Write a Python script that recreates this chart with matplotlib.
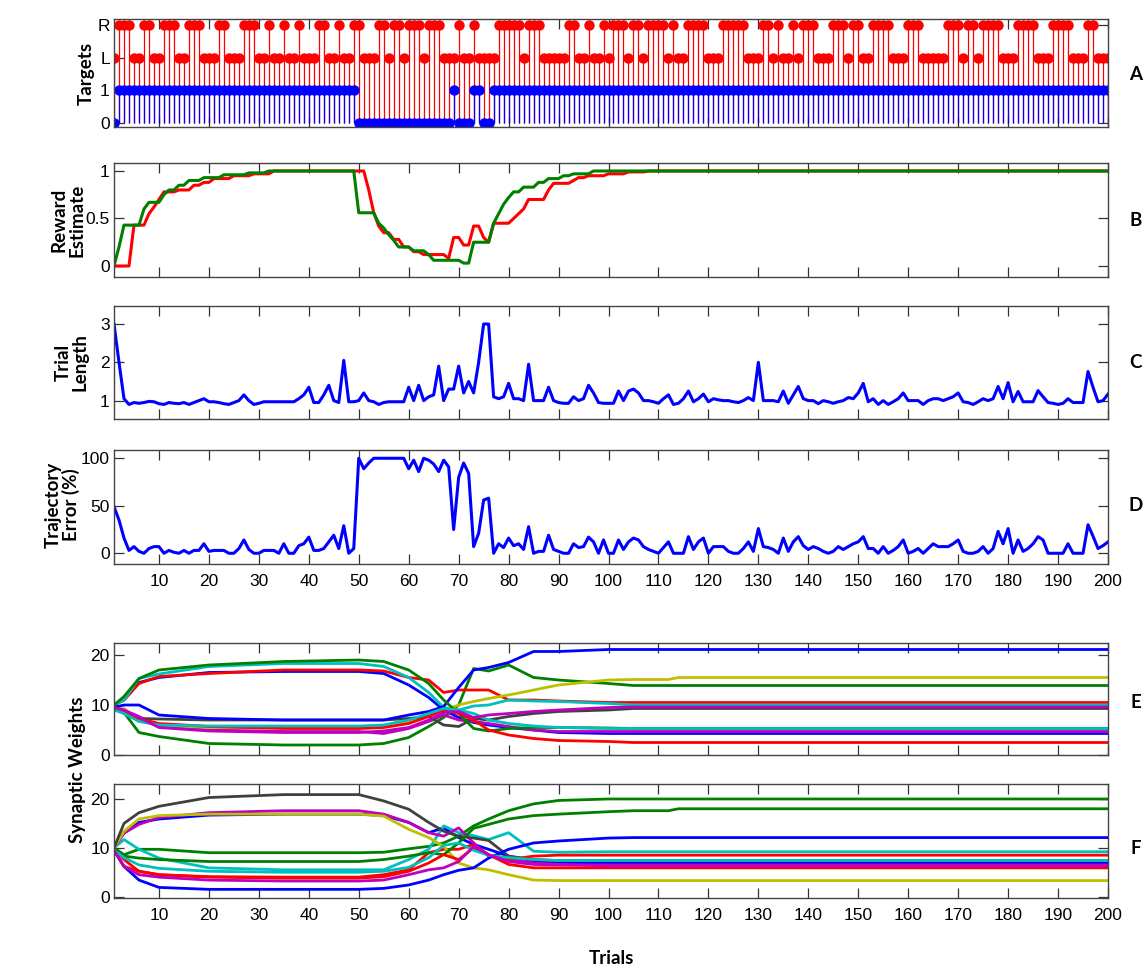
import matplotlib
matplotlib.use("Agg")
import matplotlib.pyplot as plt
import numpy as np

plt.rcParams["font.family"] = ["Liberation Sans", "DejaVu Sans"]

# MATLAB style colours
mb, mg, mr = (0, 0, 1), (0, 0.5, 0), (1, 0, 0)
mc, mm, my, mk = (0, 0.75, 0.75), (0.75, 0, 0.75), (0.75, 0.75, 0), (0.25, 0.25, 0.25)
line_colors = [mb, mg, mr, mc, mm, my, mk, mb, mg, mr, mc, mm]

trials = np.arange(1, 201)

# --- A: targets (R/L) and outcome (1/0) per trial
target_seq = ("LRRRLLRRLL" "RRRLLRRRLL" "LRRLLLRRRL" "LRLLRLLRLL" "LRRLLRLLRR"
              "LLLRRLRRLR" "RRLRRRLLLR" "LLRLLLLRRR" "RRLRRRLLLL" "LRRLLRLLRL"
              "RRRLRRLRRR" "RLRLLRRRRL" "LLRRRRRLLL" "RRLRLLRLRR" "RLLLRRRLRR"
              "LLRRRRLLLR" "RRLLLLLRRR" "LRRLRRRRLL" "LRRRRLLLRR" "RRLLLRRLLL")
failed_trials = [1] + list(range(50, 69)) + [70, 71, 72, 75, 76]

# --- B: reward estimates, run-length (value, count)
green_vals = [0, 0.2, 0.43, 0.6, 0.67, 0.75, 0.8, 0.85, 0.9, 0.93, 0.96, 0.98, 1.0,
              0.56, 0.45, 0.4, 0.33, 0.27, 0.2, 0.16, 0.12, 0.06, 0.03,
              0.25, 0.45, 0.55, 0.65, 0.72, 0.78, 0.83, 0.88, 0.92, 0.95, 0.97, 1.0]
green_runs = [1, 1, 4, 1, 3, 1, 2, 2, 3, 4, 5, 4, 18,
              4, 1, 1, 1, 1, 3, 3, 1, 6, 2,
              4, 1, 1, 1, 1, 2, 3, 2, 3, 2, 4, 104]
red_vals = [0, 0.43, 0.55, 0.62, 0.7, 0.78, 0.8, 0.85, 0.88, 0.92, 0.95, 0.97, 1.0,
            0.8, 0.56, 0.42, 0.35, 0.28, 0.2, 0.15, 0.12, 0.08,
            0.3, 0.22, 0.42, 0.3, 0.25, 0.45,
            0.5, 0.55, 0.6, 0.7, 0.8, 0.87, 0.9, 0.93, 0.95, 0.97, 0.99, 1.0]
red_runs = [4, 3, 1, 1, 1, 3, 3, 2, 2, 4, 4, 4, 19,
            1, 1, 1, 2, 2, 2, 2, 5, 1,
            2, 2, 2, 1, 1, 4,
            1, 1, 1, 4, 1, 4, 1, 2, 4, 4, 4, 93]

# --- C: trial length
trial_length = [
    3.0, 2.0, 1.05, 0.9, 0.95, 0.93, 0.95, 0.98, 0.97, 0.92,
    0.9, 0.95, 0.93, 0.92, 0.95, 0.9, 0.95, 1.0, 1.05, 0.97,
    0.97, 0.95, 0.92, 0.9, 0.95, 1.0, 1.15, 1.0, 0.9, 0.93,
    0.97, 0.97, 0.97, 0.97, 0.97, 0.97, 0.97, 1.05, 1.15, 1.35,
    0.95, 0.95, 1.15, 1.4, 1.0, 0.95, 2.05, 0.97, 0.97, 1.0,
    1.2, 1.0, 0.97, 0.9, 0.95, 0.97, 0.97, 0.97, 0.97, 1.35,
    1.0, 1.4, 1.0, 1.1, 1.15, 1.9, 1.0, 1.3, 1.3, 1.9,
    1.2, 1.5, 1.2, 2.0, 3.0, 3.0, 1.1, 1.05, 1.1, 1.45,
    1.05, 1.05, 1.0, 1.95, 1.0, 1.0, 1.0, 1.35, 1.0, 0.95,
    0.93, 0.93, 1.1, 1.0, 1.05, 1.4, 1.2, 0.95, 0.93, 0.93,
    0.93, 1.25, 1.0, 1.25, 1.3, 1.2, 1.0, 1.0, 0.97, 0.93,
    1.05, 1.15, 0.9, 0.93, 1.05, 1.25, 0.97, 1.05, 1.17, 0.97,
    1.05, 1.02, 1.0, 1.0, 0.97, 0.95, 1.0, 1.08, 1.0, 2.0,
    1.0, 1.0, 1.0, 0.97, 1.25, 0.93, 1.15, 1.37, 1.05, 1.0,
    1.0, 0.92, 1.0, 0.97, 0.93, 0.97, 1.0, 1.08, 1.05, 1.2,
    1.45, 0.97, 1.05, 0.9, 1.0, 0.9, 0.97, 1.05, 1.2, 1.0,
    1.0, 1.0, 0.9, 1.0, 1.05, 1.05, 1.0, 1.05, 1.1, 1.2,
    0.97, 0.95, 0.9, 0.97, 1.05, 1.0, 1.05, 1.37, 1.05, 1.47,
    0.97, 1.24, 0.97, 0.97, 0.97, 1.26, 1.1, 0.95, 0.93, 0.9,
    0.93, 1.05, 0.95, 0.95, 0.95, 1.76, 1.35, 0.97, 1.0, 1.17]

# --- D: trajectory error (%)
traj_error = [
    49, 35, 16, 3, 7, 2, 0, 5, 7, 7,
    0, 3, 1, 0, 3, 0, 3, 3, 10, 2,
    3, 3, 3, 0, 0, 5, 14, 4, 0, 0,
    3, 3, 3, 0, 10, 0, 0, 8, 10, 17,
    3, 3, 5, 12, 19, 5, 29, 0, 5, 100,
    89, 95, 100, 100, 100, 100, 100, 100, 100, 89,
    98, 86, 100, 98, 94, 86, 98, 91, 25, 80,
    95, 84, 7, 21, 56, 58, 0, 10, 6, 16,
    8, 10, 4, 28, 0, 2, 2, 19, 4, 2,
    0, 0, 10, 6, 7, 17, 12, 0, 14, 0,
    0, 14, 4, 12, 16, 14, 7, 4, 2, 0,
    6, 12, 0, 0, 0, 17.5, 4, 12, 16, 0,
    7, 7, 7, 2, 0, 0, 5, 12, 2, 26,
    7, 6, 4, 0, 16, 2, 12, 17.5, 8, 4,
    7, 5, 2, 0, 2, 7, 4, 7, 10, 12,
    17.5, 5, 5, 0, 7, 0, 3, 7, 14, 0,
    2, 5, 0, 5, 10, 7, 7, 7, 10, 14,
    2, 0, 0, 2, 7, 0, 5, 23, 10, 26,
    0, 14, 2, 5, 10, 17.5, 14, 0, 0, 0,
    0, 10, 0, 0, 0, 30, 18, 5, 8, 12]

# --- E/F: synaptic weights read at these trials
w_trials = [1, 3, 6, 10, 20, 35, 50, 55, 60, 64, 67, 70, 73, 76, 80, 85, 90, 100, 105, 112, 114, 200]
weights_E = [
    [10, 11, 14.5, 15.5, 16.5, 16.7, 16.7, 16.3, 14, 11.5, 9, 7.5, 6.5, 6, 5.5, 5, 4.5, 4.3, 4.3, 4.3, 4.3, 4.3],
    [9.5, 8.5, 4.5, 3.7, 2.3, 2, 2, 2.3, 3.5, 5.7, 7.5, 10, 17.3, 16.8, 18, 15.5, 15, 14.3, 13.9, 13.9, 13.9, 13.9],
    [10, 11, 14.3, 15.7, 16.3, 17, 17, 16.8, 15.5, 15, 12.5, 13, 13, 13, 11, 11, 10.8, 10.5, 10.5, 10.5, 10.5, 10.5],
    [10, 11, 15.3, 16.2, 17.7, 18.3, 18.3, 17.7, 15.5, 12.5, 9.5, 9, 9.8, 10, 11, 10.8, 10.7, 10.3, 10, 10, 10, 10],
    [9.5, 9, 7.7, 5.7, 5, 4.7, 4.7, 4.3, 5.3, 6.7, 8, 7, 6.7, 6.3, 5.7, 5, 4.7, 4.7, 4.7, 4.7, 4.7, 4.7],
    [9, 9.3, 7, 6, 5.5, 5.5, 5.5, 5.7, 6.7, 8, 9, 10, 10.7, 11.3, 12, 13, 14, 15, 15.1, 15.1, 15.5, 15.5],
    [9.5, 8.3, 7.3, 7.2, 7, 7, 7, 7, 7.3, 7.7, 6, 5.7, 7.3, 7, 7.7, 8.3, 8.7, 9, 9.3, 9.3, 9.3, 9.3],
    [9.5, 10, 10, 8, 7.3, 7, 7, 7, 8, 8.7, 9.7, 13.5, 17, 17.5, 18.5, 20.7, 20.7, 21.1, 21.1, 21.1, 21.1, 21.1],
    [10, 11.7, 15.3, 17, 18, 18.7, 19, 18.7, 17, 14.3, 11, 8.3, 5.3, 4.8, 5.3, 5.5, 5.5, 5.4, 5.3, 5.3, 5.3, 5.3],
    [9, 8.7, 7.3, 6.3, 5.7, 5.3, 5.3, 5.5, 6.3, 7.7, 9, 8.3, 7, 5, 4, 3.3, 2.9, 2.7, 2.5, 2.5, 2.5, 2.5],
    [9, 8.3, 6.7, 6, 5.8, 5.8, 5.8, 6, 7, 8.3, 9.3, 9, 8.3, 7, 6.3, 5.8, 5.5, 5.3, 5.3, 5.3, 5.3, 5.3],
    [9.5, 9, 7.5, 5.5, 4.8, 4.5, 4.5, 4.8, 5.5, 7, 8.5, 8.7, 7.5, 8, 8.3, 8.7, 9, 9.5, 9.6, 9.6, 9.6, 9.6],
]
weights_F = [
    [10, 13.1, 15.2, 15.9, 16.7, 16.9, 16.9, 16.6, 15.2, 13.1, 14.1, 12.1, 10.7, 9.7, 8.3, 7.3, 7, 6.9, 6.9, 6.9, 6.9, 6.9],
    [10, 8.6, 9.7, 9.7, 9, 9, 9, 9.1, 9.8, 10.3, 11, 12.4, 14.5, 15.9, 17.6, 19, 19.7, 20, 20, 20, 20, 20],
    [10, 7.6, 5.2, 4.5, 4.1, 4, 4, 4.5, 5.5, 9, 9.7, 9.7, 10.7, 8.6, 6.6, 5.9, 5.9, 5.9, 5.9, 5.9, 5.9, 5.9],
    [10, 11.7, 9.7, 7.9, 5.9, 5.5, 5.5, 5.5, 7.6, 9.7, 14.5, 13.1, 12.5, 11.7, 13.1, 9.3, 9.1, 9.2, 9.2, 9.2, 9.2, 9.2],
    [10, 13, 14.8, 16.2, 17.2, 17.6, 17.6, 16.9, 15.2, 13.1, 12.4, 14.1, 11, 8.3, 7.6, 6.9, 6.6, 6.3, 6.3, 6.3, 6.3, 6.3],
    [10, 13.4, 15.9, 16.6, 16.9, 16.9, 16.9, 16.5, 13.8, 12.1, 10.3, 6.9, 5.9, 5.5, 4.5, 3.4, 3.3, 3.3, 3.3, 3.3, 3.3, 3.3],
    [10, 15, 17.2, 18.5, 20.3, 20.9, 20.9, 19.6, 17.9, 15.2, 13.4, 12.4, 12, 11.5, 8.3, 7.6, 7.4, 7.4, 7.4, 7.4, 7.4, 7.4],
    [9.5, 6.2, 3.4, 1.9, 1.5, 1.5, 1.5, 1.7, 2.4, 3.4, 4.5, 5.4, 5.9, 7.9, 9.7, 11, 11.4, 12, 12.1, 12.1, 12.1, 12.1],
    [9.7, 8.3, 7.9, 7.6, 7.2, 7.2, 7.2, 7.6, 8.3, 9, 8.6, 11, 14, 14.8, 15.9, 16.6, 16.9, 17.4, 17.6, 17.6, 18, 18],
    [9.5, 6.2, 5.2, 4.5, 4, 3.8, 3.8, 4.1, 5.2, 6.9, 8.6, 7.6, 10, 8.5, 7.6, 8.3, 8.5, 8.5, 8.5, 8.5, 8.5, 8.5],
    [9.5, 8, 6.5, 5.8, 5.2, 5, 5, 5.2, 6, 8, 10.5, 11, 9.5, 8.5, 8, 7.6, 7.4, 7.4, 7.4, 7.4, 7.4, 7.4],
    [9.5, 6.2, 4.5, 4, 3.4, 3.2, 3.2, 3.4, 4.5, 5.5, 5.9, 7.2, 10.3, 8.6, 7.2, 6.6, 6.5, 6.5, 6.5, 6.5, 6.5, 6.5],
]

W, H = 1148, 972
fig = plt.figure(figsize=(W / 100, H / 100), dpi=100)


def add_panel(top, bottom):
    ax = fig.add_axes([114 / W, 1 - bottom / H, (1108 - 114) / W, (bottom - top) / H])
    ax.set_xlim(1, 200)
    ax.set_xticks(np.arange(10, 201, 10))
    ax.tick_params(direction="in", top=True, right=True, length=7, width=0.9,
                   labelsize=12.5, colors="#333333", labelcolor="black", pad=3)
    ax.tick_params(axis="x", pad=7)
    for s in ax.spines.values():
        s.set_color("#444444")
        s.set_linewidth(1.0)
    return ax


# A
axA = add_panel(19, 127.5)
target_y = [3 if c == "R" else 2 for c in target_seq]
outcome = [0 if t in failed_trials else 1 for t in trials]
st = axA.stem(trials, target_y, linefmt="-", markerfmt="o", basefmt=" ")
st.stemlines.set_color(mr)
st.stemlines.set_linewidth(0.9)
st.markerline.set_color(mr)
st.markerline.set_markersize(6.5)
sb = axA.stem(trials, outcome, linefmt="-", markerfmt="o", basefmt=" ")
sb.stemlines.set_color(mb)
sb.stemlines.set_linewidth(0.9)
sb.markerline.set_color(mb)
sb.markerline.set_markersize(6.5)
axA.set_ylim(-0.13, 3.18)
axA.set_yticks([0, 1, 2, 3])
axA.set_yticklabels(["0", "1", "L", "R"])
axA.set_xticklabels([])

# B
axB = add_panel(163, 277)
axB.plot(trials, np.repeat(red_vals, red_runs), color=mr, lw=2.2)
axB.plot(trials, np.repeat(green_vals, green_runs), color=mg, lw=2.2)
axB.set_ylim(-0.116, 1.084)
axB.set_yticks([0, 0.5, 1])
axB.set_yticklabels(["0", "0.5", "1"])
axB.set_xticklabels([])

# C
axC = add_panel(306, 419)
axC.plot(trials, trial_length, color=mb, lw=2.2)
axC.set_ylim(0.52, 3.47)
axC.set_yticks([1, 2, 3])
axC.set_xticklabels([])

# D
axD = add_panel(450, 564)
axD.plot(trials, traj_error, color=mb, lw=2.2)
axD.set_ylim(-11.3, 108.7)
axD.set_yticks([0, 50, 100])

# E
axE = add_panel(643, 755)
for vals, col in zip(weights_E, line_colors):
    axE.plot(w_trials, vals, color=col, lw=2.0)
axE.set_ylim(0, 22.4)
axE.set_yticks([0, 10, 20])
axE.set_xticklabels([])

# F
axF = add_panel(784, 898)
for vals, col in zip(weights_F, line_colors):
    axF.plot(w_trials, vals, color=col, lw=2.0)
axF.set_ylim(-0.27, 23.07)
axF.set_yticks([0, 10, 20])

lab = dict(fontsize=13.5, fontweight="bold", family=["Lato", "DejaVu Sans"])


def ftext(x, y, s, **kw):
    fig.text(x / W, 1 - y / H, s, **lab, **kw)


ftext(86, 73, "Targets", rotation=90, ha="center", va="center")
ftext(68, 220, "Reward\nEstimate", rotation=90, ha="center", va="center",
      multialignment="center", linespacing=1.0)
ftext(72, 362, "Trial\nLength", rotation=90, ha="center", va="center",
      multialignment="center", linespacing=1.0)
ftext(62, 505, "Trajectory\nError (%)", rotation=90, ha="center", va="center",
      multialignment="center", linespacing=1.0)
ftext(78, 770, "Synaptic Weights", rotation=90, ha="center", va="center")
ftext(611, 958, "Trials", ha="center", va="center")
for letter, y in zip("ABCDEF", [75, 220, 362, 505, 702, 848]):
    ftext(1136, y, letter, ha="center", va="center")

fig.savefig("out.png", dpi=100)
